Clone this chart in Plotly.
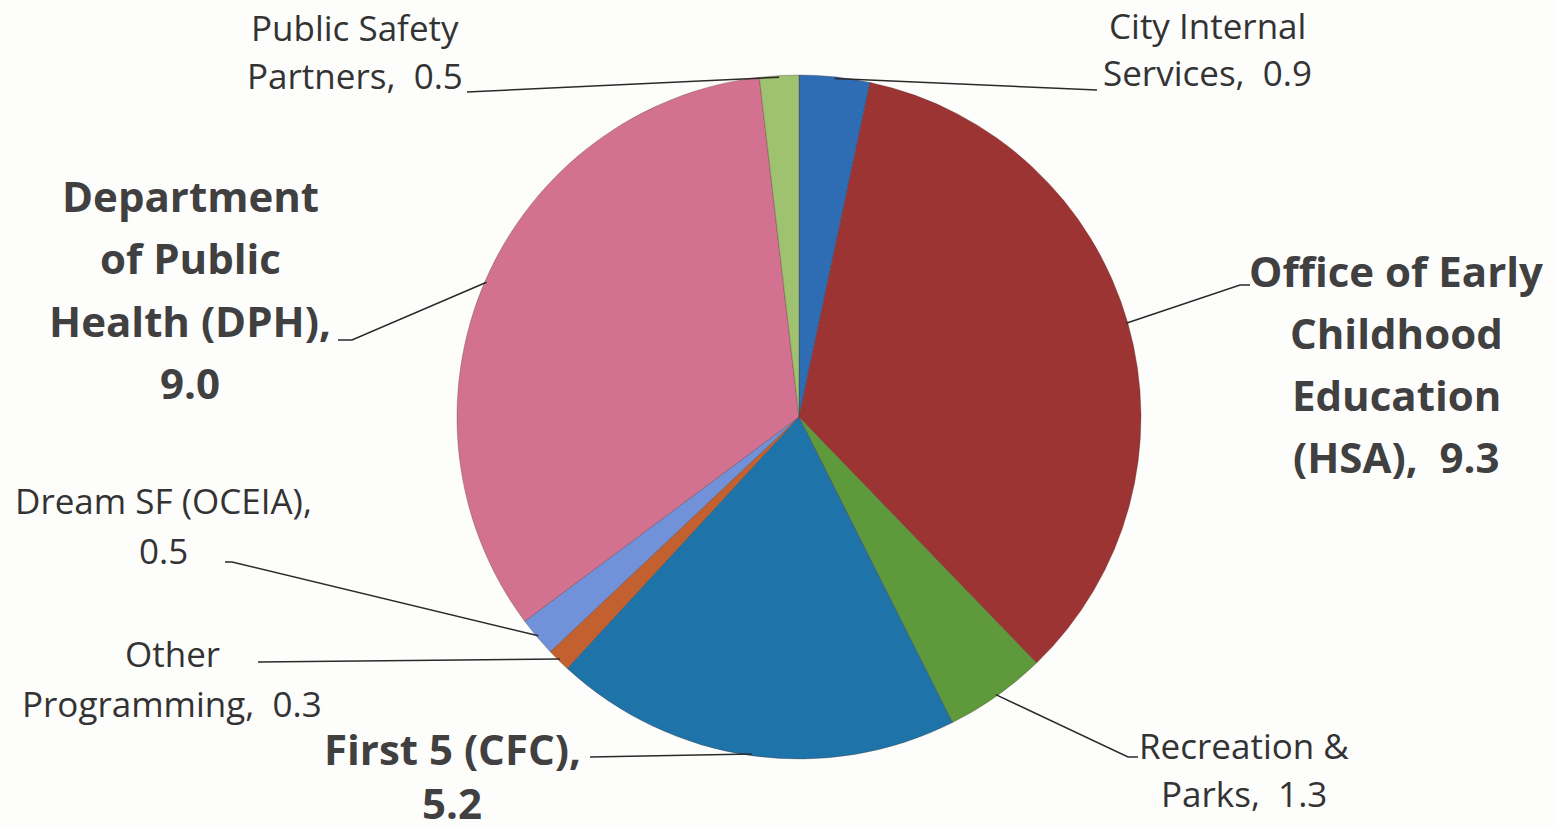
import math
import plotly.graph_objects as go

# ---- data ----
categories = ["City Internal Services", "Office of Early Childhood Education (HSA)",
              "Recreation & Parks", "First 5 (CFC)", "Other Programming",
              "Dream SF (OCEIA)", "Department of Public Health (DPH)",
              "Public Safety Partners"]
values = [0.9, 9.3, 1.3, 5.2, 0.3, 0.5, 9.0, 0.5]
colors = ["#2e6db4", "#9c3434", "#5e9a3c", "#1e73a8", "#c2612f",
          "#7191d8", "#d37290", "#9fc270"]
label_lines = [
    ["City Internal", "Services,  0.9"],
    ["Office of Early", "Childhood", "Education", "(HSA),  9.3"],
    ["Recreation &", "Parks,  1.3"],
    ["First 5 (CFC),", "5.2"],
    ["Other", "Programming,  0.3"],
    ["Dream SF (OCEIA),", "0.5"],
    ["Department", "of Public", "Health (DPH),", "9.0"],
    ["Public Safety", "Partners,  0.5"],
]
bold = [False, True, False, True, False, False, True, False]

# ---- layout (pixels) ----
W, H = 1554, 830
CX, CY, R = 799, 417, 342
# label block: (center x, first line center y, line spacing)
label_pos = [
    (1207, 25, 48),
    (1396, 270, 62),
    (1244, 745, 48),
    (452, 748, 54),
    (172, 653, 50),
    (163, 500, 50),
    (190, 195, 62.5),
    (355, 27, 48),
]
# leader line label-side points (pixels)
leader_pts = [
    [(1097, 90)],
    [(1250, 285), (1240, 285)],
    [(1138, 757), (1128, 757)],
    [(590, 757)],
    [(258, 662)],
    [(225, 562), (232, 562)],
    [(338, 340), (352, 340)],
    [(467, 92)],
]

def px(x):
    return x / W

def py(y):
    return 1 - y / H

fig = go.Figure(go.Pie(
    labels=categories, values=values, sort=False, direction="clockwise",
    rotation=0, textinfo="none", hoverinfo="label+value",
    marker=dict(colors=colors, line=dict(color="rgba(70,40,40,0.3)", width=1)),
    domain=dict(x=[px(CX - R), px(CX + R)], y=[py(CY + R), py(CY - R)]),
    showlegend=False,
))

total = sum(values)
cum = 0
shapes = []
annotations = []
for i, v in enumerate(values):
    mid = (cum + v / 2) / total * 2 * math.pi
    cum += v
    ax = CX + R * 0.995 * math.sin(mid)
    ay = CY - R * 0.995 * math.cos(mid)
    pts = leader_pts[i] + [(ax, ay)]
    path = "M " + " L ".join(f"{px(x):.5f},{py(y):.5f}" for x, y in pts)
    shapes.append(dict(type="path", xref="paper", yref="paper", path=path,
                       line=dict(color="#2a2a2a", width=1.5)))
    lx, ly0, sp = label_pos[i]
    for j, t in enumerate(label_lines[i]):
        annotations.append(dict(
            x=px(lx), y=py(ly0 + j * sp), xref="paper", yref="paper",
            text=f"<b>{t}</b>" if bold[i] else t, showarrow=False,
            xanchor="center", yanchor="middle",
            font=dict(family="Open Sans", size=42 if bold[i] else 35,
                      color="#404040" if bold[i] else "#333333")))

fig.update_layout(
    width=W, height=H, margin=dict(l=0, r=0, t=0, b=0),
    paper_bgcolor="#fdfdfc", plot_bgcolor="#fdfdfc",
    shapes=shapes, annotations=annotations,
)
fig.write_html("out.html", config={"displayModeBar": False},
               post_script="document.body.style.margin='0';"
                           "document.body.style.overflow='hidden';")
